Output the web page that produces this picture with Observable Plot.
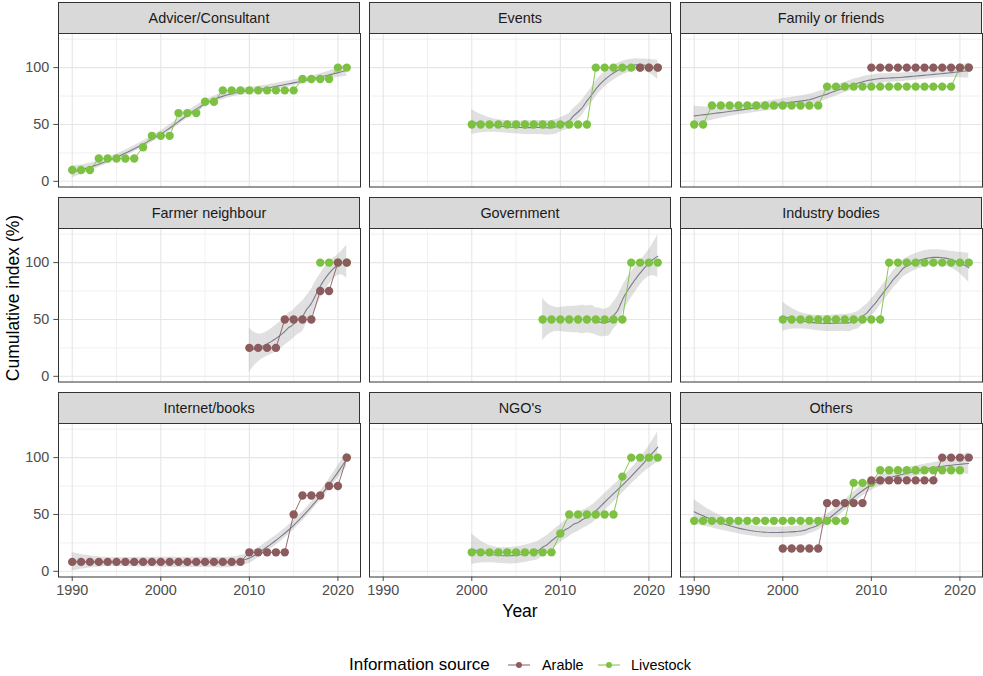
<!DOCTYPE html>
<html>
<head>
<meta charset="utf-8">
<script src="https://cdn.jsdelivr.net/npm/d3@7"></script>
<script src="https://cdn.jsdelivr.net/npm/@observablehq/plot@0.6"></script>
<style>
  body { margin: 0; background: #fff; font-family: "Liberation Sans", Arial, sans-serif; }
  #wrap { position: relative; width: 983px; height: 676px; overflow: hidden; background: #fff; }
  .strip { position: absolute; box-sizing: border-box; background: #d9d9d9; border: 1px solid #333;
           display: flex; align-items: center; justify-content: center; font-size: 14.4px; color: #1a1a1a; }
  .title { position: absolute; font-size: 17.5px; color: #000; white-space: nowrap; }
  .leg { position: absolute; white-space: nowrap; color: #000; }
</style>
</head>
<body>
<div id="wrap"></div>
<script>
// ---------------- data ----------------
const facetNames = ["Advicer/Consultant", "Events", "Family or friends",
                    "Farmer neighbour", "Government", "Industry bodies",
                    "Internet/books", "NGO's", "Others"];
const sources = ["Arable", "Livestock"];
const sourceColors = ["#8c5b5e", "#7dc143"];
const xTicks = [1990, 2000, 2010, 2020];
const xMinor = [1995, 2005, 2015];
const yTicks = [0, 50, 100];
const yMinor = [25, 75, 125];

const advicerLivestockYears = [1990,1991,1992,1993,1994,1995,1996,1997,1998,1999,2000,2001,2002,2003,2004,2005,2006,2007,2008,2009,2010,2011,2012,2013,2014,2015,2016,2017,2018,2019,2020,2021];
const advicerLivestockValues = [10,10,10,20,20,20,20,20,30,40,40,40,60,60,60,70,70,80,80,80,80,80,80,80,80,80,90,90,90,90,100,100];

const eventsArableYears = [2019,2020,2021];
const eventsArableValues = [100,100,100];
const eventsLivestockYears = [2000,2001,2002,2003,2004,2005,2006,2007,2008,2009,2010,2011,2012,2013,2014,2015,2016,2017,2018,2019,2020,2021];
const eventsLivestockValues = [50,50,50,50,50,50,50,50,50,50,50,50,50,50,100,100,100,100,100,100,100,100];

const familyArableYears = [2010,2011,2012,2013,2014,2015,2016,2017,2018,2019,2020,2021];
const familyArableValues = [100,100,100,100,100,100,100,100,100,100,100,100];
const familyLivestockYears = [1990,1991,1992,1993,1994,1995,1996,1997,1998,1999,2000,2001,2002,2003,2004,2005,2006,2007,2008,2009,2010,2011,2012,2013,2014,2015,2016,2017,2018,2019,2020,2021];
const familyLivestockValues = [50,50,66.7,66.7,66.7,66.7,66.7,66.7,66.7,66.7,66.7,66.7,66.7,66.7,66.7,83.3,83.3,83.3,83.3,83.3,83.3,83.3,83.3,83.3,83.3,83.3,83.3,83.3,83.3,83.3,100,100];

const farmerArableYears = [2010,2011,2012,2013,2014,2015,2016,2017,2018,2019,2020,2021];
const farmerArableValues = [25,25,25,25,50,50,50,50,75,75,100,100];
const farmerLivestockYears = [2018,2019,2020,2021];
const farmerLivestockValues = [100,100,100,100];

const governmentLivestockYears = [2008,2009,2010,2011,2012,2013,2014,2015,2016,2017,2018,2019,2020,2021];
const governmentLivestockValues = [50,50,50,50,50,50,50,50,50,50,100,100,100,100];

const industryLivestockYears = [2000,2001,2002,2003,2004,2005,2006,2007,2008,2009,2010,2011,2012,2013,2014,2015,2016,2017,2018,2019,2020,2021];
const industryLivestockValues = [50,50,50,50,50,50,50,50,50,50,50,50,100,100,100,100,100,100,100,100,100,100];

const internetArableYears = [1990,1991,1992,1993,1994,1995,1996,1997,1998,1999,2000,2001,2002,2003,2004,2005,2006,2007,2008,2009,2010,2011,2012,2013,2014,2015,2016,2017,2018,2019,2020,2021];
const internetArableValues = [8.3,8.3,8.3,8.3,8.3,8.3,8.3,8.3,8.3,8.3,8.3,8.3,8.3,8.3,8.3,8.3,8.3,8.3,8.3,8.3,16.7,16.7,16.7,16.7,16.7,50,66.7,66.7,66.7,75,75,100];
const internetLivestockYears = [2021];
const internetLivestockValues = [100];

const ngoLivestockYears = [2000,2001,2002,2003,2004,2005,2006,2007,2008,2009,2010,2011,2012,2013,2014,2015,2016,2017,2018,2019,2020,2021];
const ngoLivestockValues = [16.7,16.7,16.7,16.7,16.7,16.7,16.7,16.7,16.7,16.7,33.3,50,50,50,50,50,50,83.3,100,100,100,100];

const othersArableYears = [2000,2001,2002,2003,2004,2005,2006,2007,2008,2009,2010,2011,2012,2013,2014,2015,2016,2017,2018,2019,2020,2021];
const othersArableValues = [20,20,20,20,20,60,60,60,60,60,80,80,80,80,80,80,80,80,100,100,100,100];
const othersLivestockYears = [1990,1991,1992,1993,1994,1995,1996,1997,1998,1999,2000,2001,2002,2003,2004,2005,2006,2007,2008,2009,2010,2011,2012,2013,2014,2015,2016,2017,2018,2019,2020];
const othersLivestockValues = [44.4,44.4,44.4,44.4,44.4,44.4,44.4,44.4,44.4,44.4,44.4,44.4,44.4,44.4,44.4,44.4,44.4,44.4,77.8,77.8,77.8,88.9,88.9,88.9,88.9,88.9,88.9,88.9,88.9,88.9,88.9];

const panels = [
  {name: facetNames[0], ara: null, liv: [advicerLivestockYears, advicerLivestockValues]},
  {name: facetNames[1], ara: [eventsArableYears, eventsArableValues], liv: [eventsLivestockYears, eventsLivestockValues]},
  {name: facetNames[2], ara: [familyArableYears, familyArableValues], liv: [familyLivestockYears, familyLivestockValues]},
  {name: facetNames[3], ara: [farmerArableYears, farmerArableValues], liv: [farmerLivestockYears, farmerLivestockValues]},
  {name: facetNames[4], ara: null, liv: [governmentLivestockYears, governmentLivestockValues]},
  {name: facetNames[5], ara: null, liv: [industryLivestockYears, industryLivestockValues]},
  {name: facetNames[6], ara: [internetArableYears, internetArableValues], liv: [internetLivestockYears, internetLivestockValues]},
  {name: facetNames[7], ara: null, liv: [ngoLivestockYears, ngoLivestockValues]},
  {name: facetNames[8], ara: [othersArableYears, othersArableValues], liv: [othersLivestockYears, othersLivestockValues]}
];

// ---------------- loess smoother (span 0.75, degree 2) with 95% CI ----------------
function solve3(S, b) {
  const A = S.map((r, i) => [...r, b[i]]);
  for (let c = 0; c < 3; c++) {
    let p = c;
    for (let r = c + 1; r < 3; r++) if (Math.abs(A[r][c]) > Math.abs(A[p][c])) p = r;
    [A[c], A[p]] = [A[p], A[c]];
    const piv = A[c][c] || 1e-12;
    for (let r = 0; r < 3; r++) {
      if (r === c) continue;
      const f = A[r][c] / piv;
      for (let k = c; k < 4; k++) A[r][k] -= f * A[c][k];
    }
  }
  return [A[0][3] / (A[0][0] || 1e-12), A[1][3] / (A[1][1] || 1e-12), A[2][3] / (A[2][2] || 1e-12)];
}
function loessRow(xs, x0, span) {
  const n = xs.length;
  const q = Math.max(3, Math.floor(n * span));
  const d = xs.map(x => Math.abs(x - x0));
  const sd = d.slice().sort((a, b) => a - b);
  let h = sd[Math.min(q, n) - 1];
  if (span > 1) h *= span;
  h = Math.max(h, 1e-9) * 1.000001;
  const w = d.map(di => { const u = di / h; return u < 1 ? Math.pow(1 - u * u * u, 3) : 0; });
  const S = [[0,0,0],[0,0,0],[0,0,0]];
  for (let i = 0; i < n; i++) {
    const t = xs[i] - x0, v = [1, t, t * t];
    for (let a = 0; a < 3; a++) for (let b = 0; b < 3; b++) S[a][b] += w[i] * v[a] * v[b];
  }
  const c = solve3(S, [1, 0, 0]);
  return xs.map((x, i) => { const t = x - x0; return w[i] * (c[0] + c[1] * t + c[2] * t * t); });
}
function tq975(df) {
  const z = 1.959964;
  const g1 = (z ** 3 + z) / 4;
  const g2 = (5 * z ** 5 + 16 * z ** 3 + 3 * z) / 96;
  const g3 = (3 * z ** 7 + 19 * z ** 5 + 17 * z ** 3 - 15 * z) / 384;
  return z + g1 / df + g2 / df ** 2 + g3 / df ** 3;
}
function smooth(xs, ys, span = 0.75) {
  const n = xs.length;
  const L = xs.map(x0 => loessRow(xs, x0, span));
  const fitted = L.map(r => r.reduce((s, l, j) => s + l * ys[j], 0));
  const M = L.map((r, i) => r.map((l, j) => (i === j ? 1 : 0) - l));
  // MtM
  const MtM = [];
  for (let a = 0; a < n; a++) { MtM.push([]); for (let b = 0; b < n; b++) { let s = 0; for (let k = 0; k < n; k++) s += M[k][a] * M[k][b]; MtM[a].push(s); } }
  let d1 = 0, d2 = 0;
  for (let a = 0; a < n; a++) { d1 += MtM[a][a]; for (let b = 0; b < n; b++) d2 += MtM[a][b] * MtM[b][a]; }
  const rss = ys.reduce((s, y, i) => s + (y - fitted[i]) ** 2, 0);
  const sigma = Math.sqrt(rss / d1);
  const df = d1 * d1 / d2;
  const t = tq975(df);
  const lo = d3.min(xs), hi = d3.max(xs);
  const out = [];
  for (let k = 0; k < 80; k++) {
    const x0 = lo + (hi - lo) * k / 79;
    const l = loessRow(xs, x0, span);
    const fit = l.reduce((s, v, j) => s + v * ys[j], 0);
    const se = sigma * Math.sqrt(l.reduce((s, v) => s + v * v, 0));
    out.push({x: x0, fit, lo: fit - t * se, hi: fit + t * se});
  }
  return out;
}

// ---------------- layout ----------------
const W = 302, H = 153.5, STRIP = 31;
const panelLefts = [58, 369, 680];
const stripTops = [2, 197, 392];
const xDomain = [1988.45, 2022.55];
const yDomain = [-5, 130];

const wrap = document.getElementById("wrap");

panels.forEach((p, i) => {
  const col = i % 3, row = Math.floor(i / 3);
  const rows = [];
  if (p.liv) p.liv[0].forEach((yr, k) => rows.push({year: yr, value: p.liv[1][k], source: "Livestock"}));
  if (p.ara) p.ara[0].forEach((yr, k) => rows.push({year: yr, value: p.ara[1][k], source: "Arable"}));
  const sm = smooth(rows.map(d => d.year), rows.map(d => d.value));

  const ML = col === 0 ? 58 : 2, MB = row === 2 ? 34 : 2, MT = 2, MR = 2;
  const svg = Plot.plot({
    width: W + ML + MR, height: H + MT + MB,
    marginLeft: ML, marginRight: MR, marginTop: MT, marginBottom: MB,
    style: {background: "transparent", overflow: "visible", fontFamily: "Liberation Sans, Arial, sans-serif",
            fontSize: "14.4px", color: "#4d4d4d"},
    x: {domain: xDomain, axis: row === 2 ? "bottom" : null, ticks: xTicks, tickFormat: d => String(d),
        tickSize: 4.5, tickPadding: 3, label: null},
    y: {domain: yDomain, axis: col === 0 ? "left" : null, ticks: yTicks, tickSize: 4.7, tickPadding: 4.5, label: null},
    color: {domain: sources, range: sourceColors},
    marks: [
      Plot.gridX(xMinor, {stroke: "#ebebeb", strokeOpacity: 1, strokeWidth: 0.7}),
      Plot.gridY(yMinor, {stroke: "#ebebeb", strokeOpacity: 1, strokeWidth: 0.7}),
      Plot.gridX(xTicks, {stroke: "#e6e6e6", strokeOpacity: 1, strokeWidth: 1.1}),
      Plot.gridY(yTicks, {stroke: "#e6e6e6", strokeOpacity: 1, strokeWidth: 1.1}),
      Plot.areaY(sm, {x: "x", y1: "lo", y2: "hi", fill: "#999999", fillOpacity: 0.3, clip: true}),
      Plot.line(sm, {x: "x", y: "fit", stroke: "#7b7b8e", strokeWidth: 1.1, clip: true}),
      Plot.line(rows, {x: "year", y: "value", stroke: "source", strokeWidth: 0.9}),
      Plot.dot(rows, {x: "year", y: "value", fill: "source", r: 4.2}),
      Plot.frame({stroke: "#333333", strokeWidth: 1})
    ]
  });
  svg.style.position = "absolute";
  svg.style.left = (panelLefts[col] - ML) + "px";
  svg.style.top = (stripTops[row] + STRIP - MT) + "px";
  wrap.appendChild(svg);

  const strip = document.createElement("div");
  strip.className = "strip";
  strip.style.left = panelLefts[col] + "px";
  strip.style.top = stripTops[row] + "px";
  strip.style.width = W + "px";
  strip.style.height = (STRIP + 1) + "px";
  strip.textContent = p.name;
  wrap.appendChild(strip);
});

// axis titles
const xt = document.createElement("div");
xt.className = "title"; xt.textContent = "Year";
xt.style.left = "420px"; xt.style.width = "200px"; xt.style.textAlign = "center"; xt.style.top = "601px";
wrap.appendChild(xt);

const yt = document.createElement("div");
yt.className = "title"; yt.textContent = "Cumulative index (%)";
yt.style.left = "13px"; yt.style.top = "298px"; yt.style.transform = "translate(-50%,-50%) rotate(-90deg)";
wrap.appendChild(yt);

// legend
const lt = document.createElement("div");
lt.className = "leg"; lt.textContent = "Information source";
lt.style.left = "349px"; lt.style.top = "655px"; lt.style.fontSize = "17px";
wrap.appendChild(lt);
const keyX = [508, 598], labX = [542, 631];
sources.forEach((s, k) => {
  const ns = "http://www.w3.org/2000/svg";
  const key = document.createElementNS(ns, "svg");
  key.setAttribute("width", 22); key.setAttribute("height", 14);
  key.style.position = "absolute"; key.style.left = keyX[k] + "px"; key.style.top = "658px";
  const ln = document.createElementNS(ns, "line");
  ln.setAttribute("x1", 0); ln.setAttribute("x2", 22); ln.setAttribute("y1", 7); ln.setAttribute("y2", 7);
  ln.setAttribute("stroke", sourceColors[k]); ln.setAttribute("stroke-width", 1);
  const c = document.createElementNS(ns, "circle");
  c.setAttribute("cx", 11); c.setAttribute("cy", 7); c.setAttribute("r", 3); c.setAttribute("fill", sourceColors[k]);
  key.appendChild(ln); key.appendChild(c);
  wrap.appendChild(key);
  const lab = document.createElement("div");
  lab.className = "leg"; lab.textContent = s;
  lab.style.left = labX[k] + "px"; lab.style.top = "657px"; lab.style.fontSize = "14.4px";
  wrap.appendChild(lab);
});
</script>
</body>
</html>
